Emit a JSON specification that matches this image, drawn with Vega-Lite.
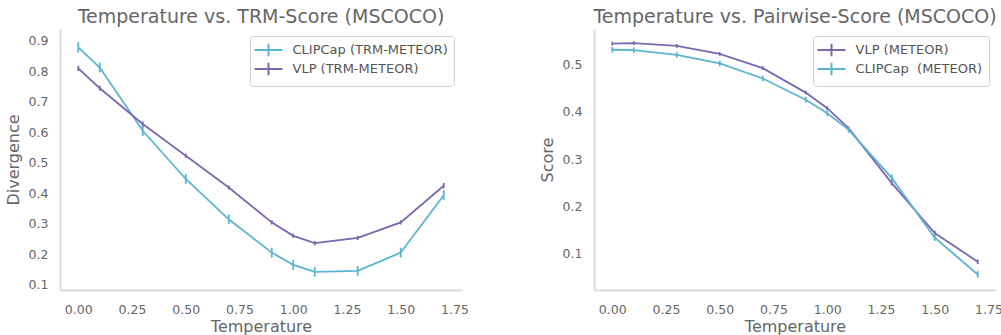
{
  "$schema": "https://vega.github.io/schema/vega-lite/v6.json",
  "padding": {"left": 5, "top": 8, "right": 0, "bottom": 0},
  "spacing": 70,
  "config": {
    "font": "DejaVu Sans",
    "view": {"stroke": null},
    "axis": {
      "grid": false, "ticks": false, "domainColor": "#dcdcdc", "domainWidth": 2, "labelOverlap": false,
      "labelFont": "DejaVu Sans", "labelFontSize": 12.5, "labelColor": "#666666",
      "titleFont": "DejaVu Sans", "titleFontSize": 16, "titleFontWeight": "normal", "titleColor": "#666666"
    },
    "title": {"font": "DejaVu Sans", "fontSize": 19, "fontWeight": "normal", "color": "#666666", "offset": 2},
    "legend": {
      "labelFont": "DejaVu Sans", "labelFontSize": 13, "labelColor": "#555555",
      "strokeColor": "#d0d0d0", "fillColor": "white", "cornerRadius": 3, "padding": 6,
      "rowPadding": -6, "symbolType": "M-2,0H2M0,-0.9V0.9", "symbolSize": 196, "symbolOffset": 4.5,
      "symbolStrokeWidth": 2, "symbolFillColor": "transparent", "labelOffset": 16
    }
  },
  "datasets": {
    "left": [
      {"model": "CLIPCap (TRM-METEOR)", "t": 0.0, "v": 0.878, "e": 0.017},
      {"model": "CLIPCap (TRM-METEOR)", "t": 0.1, "v": 0.812, "e": 0.016},
      {"model": "CLIPCap (TRM-METEOR)", "t": 0.3, "v": 0.605, "e": 0.017},
      {"model": "CLIPCap (TRM-METEOR)", "t": 0.5, "v": 0.447, "e": 0.016},
      {"model": "CLIPCap (TRM-METEOR)", "t": 0.7, "v": 0.315, "e": 0.016},
      {"model": "CLIPCap (TRM-METEOR)", "t": 0.9, "v": 0.206, "e": 0.016},
      {"model": "CLIPCap (TRM-METEOR)", "t": 1.0, "v": 0.166, "e": 0.016},
      {"model": "CLIPCap (TRM-METEOR)", "t": 1.1, "v": 0.143, "e": 0.016},
      {"model": "CLIPCap (TRM-METEOR)", "t": 1.3, "v": 0.146, "e": 0.016},
      {"model": "CLIPCap (TRM-METEOR)", "t": 1.5, "v": 0.206, "e": 0.016},
      {"model": "CLIPCap (TRM-METEOR)", "t": 1.7, "v": 0.394, "e": 0.016},
      {"model": "VLP (TRM-METEOR)", "t": 0.0, "v": 0.809, "e": 0.009},
      {"model": "VLP (TRM-METEOR)", "t": 0.1, "v": 0.744, "e": 0.008},
      {"model": "VLP (TRM-METEOR)", "t": 0.3, "v": 0.627, "e": 0.008},
      {"model": "VLP (TRM-METEOR)", "t": 0.5, "v": 0.523, "e": 0.007},
      {"model": "VLP (TRM-METEOR)", "t": 0.7, "v": 0.419, "e": 0.007},
      {"model": "VLP (TRM-METEOR)", "t": 0.9, "v": 0.305, "e": 0.007},
      {"model": "VLP (TRM-METEOR)", "t": 1.0, "v": 0.261, "e": 0.007},
      {"model": "VLP (TRM-METEOR)", "t": 1.1, "v": 0.237, "e": 0.007},
      {"model": "VLP (TRM-METEOR)", "t": 1.3, "v": 0.254, "e": 0.007},
      {"model": "VLP (TRM-METEOR)", "t": 1.5, "v": 0.305, "e": 0.007},
      {"model": "VLP (TRM-METEOR)", "t": 1.7, "v": 0.425, "e": 0.009}
    ],
    "right": [
      {"model": "VLP (METEOR)", "t": 0.0, "v": 0.545, "e": 0.004},
      {"model": "VLP (METEOR)", "t": 0.1, "v": 0.546, "e": 0.004},
      {"model": "VLP (METEOR)", "t": 0.3, "v": 0.540, "e": 0.004},
      {"model": "VLP (METEOR)", "t": 0.5, "v": 0.523, "e": 0.004},
      {"model": "VLP (METEOR)", "t": 0.7, "v": 0.493, "e": 0.004},
      {"model": "VLP (METEOR)", "t": 0.9, "v": 0.441, "e": 0.004},
      {"model": "VLP (METEOR)", "t": 1.0, "v": 0.408, "e": 0.004},
      {"model": "VLP (METEOR)", "t": 1.1, "v": 0.365, "e": 0.004},
      {"model": "VLP (METEOR)", "t": 1.3, "v": 0.249, "e": 0.005},
      {"model": "VLP (METEOR)", "t": 1.5, "v": 0.143, "e": 0.005},
      {"model": "VLP (METEOR)", "t": 1.7, "v": 0.082, "e": 0.005},
      {"model": "CLIPCap\u00a0 (METEOR)", "t": 0.0, "v": 0.532, "e": 0.006},
      {"model": "CLIPCap\u00a0 (METEOR)", "t": 0.1, "v": 0.531, "e": 0.006},
      {"model": "CLIPCap\u00a0 (METEOR)", "t": 0.3, "v": 0.521, "e": 0.006},
      {"model": "CLIPCap\u00a0 (METEOR)", "t": 0.5, "v": 0.503, "e": 0.006},
      {"model": "CLIPCap\u00a0 (METEOR)", "t": 0.7, "v": 0.471, "e": 0.006},
      {"model": "CLIPCap\u00a0 (METEOR)", "t": 0.9, "v": 0.426, "e": 0.006},
      {"model": "CLIPCap\u00a0 (METEOR)", "t": 1.0, "v": 0.397, "e": 0.006},
      {"model": "CLIPCap\u00a0 (METEOR)", "t": 1.1, "v": 0.362, "e": 0.006},
      {"model": "CLIPCap\u00a0 (METEOR)", "t": 1.3, "v": 0.260, "e": 0.007},
      {"model": "CLIPCap\u00a0 (METEOR)", "t": 1.5, "v": 0.133, "e": 0.007},
      {"model": "CLIPCap\u00a0 (METEOR)", "t": 1.7, "v": 0.055, "e": 0.007}
    ]
  },
  "resolve": {"scale": {"color": "independent", "x": "independent", "y": "independent"}, "legend": {"color": "independent"}},
  "hconcat": [
    {
      "width": 402, "height": 261,
      "title": "Temperature vs. TRM-Score (MSCOCO)",
      "data": {"name": "left"},
      "layer": [
        {
          "mark": {"type": "line", "strokeWidth": 1.8},
          "encoding": {
            "x": {"field": "t", "type": "quantitative", "title": "Temperature",
              "scale": {"domain": [-0.085, 1.785], "nice": false, "zero": false},
              "axis": {"values": [0, 0.25, 0.5, 0.75, 1.0, 1.25, 1.5, 1.75], "format": ".2f", "labelPadding": 13, "titlePadding": 3, "labelFlush": false}},
            "y": {"field": "v", "type": "quantitative", "title": "Divergence",
              "scale": {"domain": [0.0836, 0.938], "nice": false, "zero": false},
              "axis": {"values": [0.1, 0.2, 0.3, 0.4, 0.5, 0.6, 0.7, 0.8, 0.9], "format": ".1f", "labelOverlap": false, "labelPadding": 12, "titleX": -47, "titleBaseline": "middle"}},
            "color": {"field": "model", "type": "nominal",
              "scale": {"domain": ["CLIPCap (TRM-METEOR)", "VLP (TRM-METEOR)"], "range": ["#5bb5cf", "#7b68b2"]},
              "legend": {"title": null, "orient": "none", "legendX": 190, "legendY": 7}}
          }
        },
        {
          "mark": {"type": "errorbar", "thickness": 1.8},
          "encoding": {
            "x": {"field": "t", "type": "quantitative", "title": "Temperature"},
            "y": {"field": "v", "type": "quantitative", "title": "Divergence", "axis": {"values": [0.1, 0.2, 0.3, 0.4, 0.5, 0.6, 0.7, 0.8, 0.9], "format": ".1f", "labelOverlap": false, "labelPadding": 12, "titleX": -47, "titleBaseline": "middle"}},
            "yError": {"field": "e"},
            "color": {"field": "model", "type": "nominal", "legend": null}
          }
        }
      ]
    },
    {
      "width": 402, "height": 261,
      "title": "Temperature vs. Pairwise-Score (MSCOCO)",
      "data": {"name": "right"},
      "layer": [
        {
          "mark": {"type": "line", "strokeWidth": 1.8},
          "encoding": {
            "x": {"field": "t", "type": "quantitative", "title": "Temperature",
              "scale": {"domain": [-0.085, 1.785], "nice": false, "zero": false},
              "axis": {"values": [0, 0.25, 0.5, 0.75, 1.0, 1.25, 1.5, 1.75], "format": ".2f", "labelPadding": 13, "titlePadding": 3, "labelFlush": false}},
            "y": {"field": "v", "type": "quantitative", "title": "Score",
              "scale": {"domain": [0.022, 0.576], "nice": false, "zero": false},
              "axis": {"values": [0.1, 0.2, 0.3, 0.4, 0.5], "format": ".1f", "labelPadding": 12, "titleX": -47, "titleBaseline": "middle"}},
            "color": {"field": "model", "type": "nominal",
              "scale": {"domain": ["VLP (METEOR)", "CLIPCap\u00a0 (METEOR)"], "range": ["#7b68b2", "#5bb5cf"]},
              "legend": {"title": null, "orient": "none", "legendX": 219, "legendY": 7}}
          }
        },
        {
          "mark": {"type": "errorbar", "thickness": 1.8},
          "encoding": {
            "x": {"field": "t", "type": "quantitative", "title": "Temperature"},
            "y": {"field": "v", "type": "quantitative", "title": "Score"},
            "yError": {"field": "e"},
            "color": {"field": "model", "type": "nominal", "legend": null}
          }
        }
      ]
    }
  ]
}
